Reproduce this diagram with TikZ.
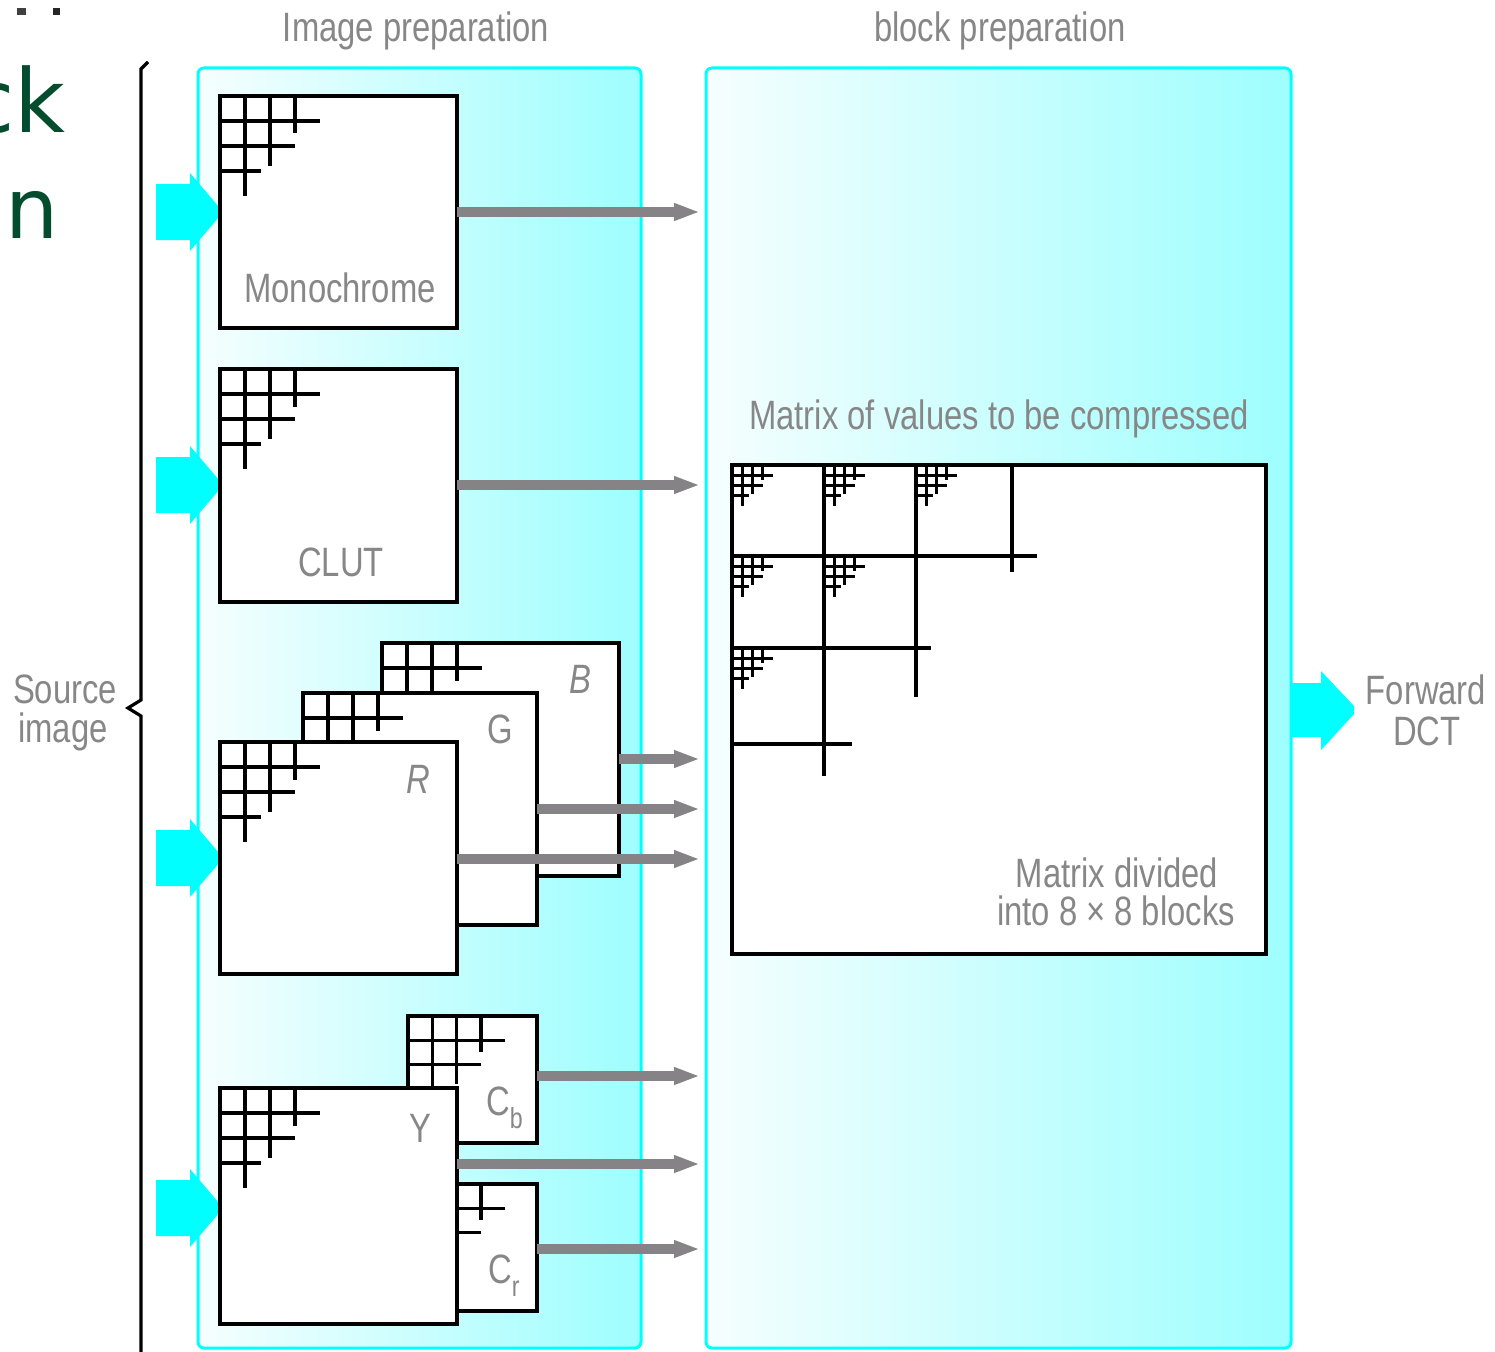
\documentclass[tikz,border=0pt]{standalone}
\usepackage{fontspec}
\setmainfont{Liberation Sans}[FakeStretch=0.8]
\newfontfamily\greenfont{DejaVu Sans}
\usetikzlibrary{arrows.meta}
\definecolor{cy}{RGB}{0,255,255}
\definecolor{panelL}{RGB}{246,254,254}
\definecolor{panelR}{RGB}{158,254,254}
\definecolor{arrgray}{RGB}{133,131,133}
\definecolor{txtgray}{RGB}{135,135,135}
\definecolor{titlegreen}{RGB}{3,77,46}
\newcommand\lblfont{\fontsize{41}{45}\selectfont}
\newcommand\subfont{\fontsize{29}{30}\selectfont}
\newcommand\mygridpat[4]{%
  \draw[line width=#4]
    ({#1+#3},#2) -- ++(0,{4*#3})
    ({#1+2*#3},#2) -- ++(0,{2.8*#3})
    ({#1+3*#3},#2) -- ++(0,{1.5*#3})
    (#1,{#2+#3}) -- ++({4*#3},0)
    (#1,{#2+2*#3}) -- ++({3*#3},0)
    (#1,{#2+3*#3}) -- ++({1.65*#3},0);}
\newcommand\cyarrow[1]{%
  \fill[cy] (156,{#1-28}) -- (190,{#1-28}) -- (190,{#1-39}) -- (219,{#1-5}) -- (219,{#1+5})
    -- (190,{#1+39}) -- (190,{#1+28}) -- (156,{#1+28}) -- cycle;}
\begin{document}
\begin{tikzpicture}[x=1pt,y=-1pt,
  box/.style={draw=black, fill=white, line width=3.5pt, inner sep=0pt, outer sep=0pt, anchor=north west},
  panel/.style={draw=cy, line width=3pt, rounded corners=6pt, left color=panelL, right color=panelR, inner sep=0pt, outer sep=0pt, anchor=north west},
  garrow/.style={draw=arrgray, line width=9.5pt, -{Triangle[length=26pt,width=16pt]}},
  lbl/.style={text=txtgray, font=\lblfont, anchor=base, inner sep=0pt}]
\clip (0,0) rectangle (1495,1351);
\fill[white] (0,0) rectangle (1495,1351);
% cropped slide title remnants
\node[text=titlegreen, font=\greenfont\fontsize{88}{88}\selectfont, anchor=base east, inner sep=0pt] (tck) at (66,133) {ck};
\node[text=titlegreen, font=\greenfont\fontsize{84}{84}\selectfont, anchor=base west, inner sep=0pt] (tn) at (5,238) {n};
\fill[black!75] (17,8) rectangle (26,15);
\fill[black!85] (53,8) rectangle (60,15);
% brace
\draw[line width=3.2pt] (148,62) -- (141,69) -- (141,700) -- (128,708) -- (141,716) -- (141,1360);
% panels
\node[panel, minimum width=443, minimum height=1280] (ip) at (198,68) {};
\node[panel, minimum width=585, minimum height=1280] (bp) at (706,68) {};
\node[lbl] (tip) at (416,42) {Image preparation};
\node[lbl] (tbp) at (1000,42) {block preparation};
% cyan input arrows
\cyarrow{212}
\cyarrow{485}
\cyarrow{858}
\cyarrow{1208}
% boxes
\node[box, minimum width=237, minimum height=232] (mono) at (220,96) {};
\mygridpat{220}{96}{25}{3.3pt}
\node[box, minimum width=237, minimum height=233] (clut) at (220,369) {};
\mygridpat{220}{369}{25}{3.3pt}
\node[box, minimum width=237, minimum height=233] (bb) at (382,643) {};
\mygridpat{382}{643}{25}{3.3pt}
\node[box, minimum width=234, minimum height=232] (gb) at (303,693) {};
\mygridpat{303}{693}{25}{3.3pt}
\node[box, minimum width=237, minimum height=232] (rb) at (220,742) {};
\mygridpat{220}{742}{25}{3.3pt}
\node[box, minimum width=129, minimum height=127] (cb) at (408,1016) {};
\mygridpat{408}{1016}{24.3}{3.3pt}
\node[box, minimum width=129, minimum height=127] (cr) at (408,1184) {};
\mygridpat{408}{1184}{24.3}{3.3pt}
\node[box, minimum width=237, minimum height=236] (yb) at (220,1088) {};
\mygridpat{220}{1088}{25}{3.3pt}
% matrix
\node[box, minimum width=534, minimum height=489] (mx) at (732,465) {};
\draw[line width=3.5pt]
  (824,465) -- (824,776) (916,465) -- (916,697) (1012,465) -- (1012,572)
  (732,556) -- (1037,556) (732,648) -- (931,648) (732,744) -- (852,744);
\mygridpat{732}{465}{10.2}{2.7pt}
\mygridpat{824}{465}{10.2}{2.7pt}
\mygridpat{916}{465}{10.2}{2.7pt}
\mygridpat{732}{556}{10.2}{2.7pt}
\mygridpat{824}{556}{10.2}{2.7pt}
\mygridpat{732}{648}{10.2}{2.7pt}
% gray connectors
\coordinate (tm) at (700,212);
\coordinate (tc) at (700,485);
\coordinate (tb) at (700,759);
\coordinate (tg) at (700,809);
\coordinate (tr) at (700,859);
\coordinate (tcb) at (700,1076);
\coordinate (ty) at (700,1164);
\coordinate (tcr) at (700,1249);
\draw[garrow] (mono.east |- tm) -- (tm);
\draw[garrow] (clut.east |- tc) -- (tc);
\draw[garrow] (bb.east |- tb) -- (tb);
\draw[garrow] (gb.east |- tg) -- (tg);
\draw[garrow] (rb.east |- tr) -- (tr);
\draw[garrow] (cb.east |- tcb) -- (tcb);
\draw[garrow] (yb.east |- ty) -- (ty);
\draw[garrow] (cr.east |- tcr) -- (tcr);
% forward DCT arrow
\fill[cy] (1292,683) -- (1321,683) -- (1321,671) -- (1354,706) -- (1354,714) -- (1321,750) -- (1321,737) -- (1292,737) -- cycle;
% labels
\node[lbl] (lmono) at (340,302) {Monochrome};
\node[lbl] (lclut) at (341,576) {CLUT};
\node[lbl] (lb) at (580,693) {\itshape B};
\node[lbl] (lg) at (500,743) {G};
\node[lbl] (lr) at (418,793) {\itshape R};
\node[lbl] (ly) at (420,1142) {Y};
\node[lbl, anchor=base west] (lcb) at (486,1115) {C\raisebox{-13pt}{\subfont b}};
\node[lbl, anchor=base west] (lcr) at (488,1283) {C\raisebox{-13pt}{\subfont r}};
\node[lbl] (src1) at (65,703) {Source};
\node[lbl] (src2) at (63,742) {image};
\node[lbl] (fd1) at (1426,704) {Forward};
\node[lbl] (fd2) at (1427,745) {DCT};
\node[lbl] (mv) at (999,429) {Matrix of values to be compressed};
\node[lbl] (md1) at (1117,887) {Matrix divided};
\node[lbl] (md2) at (1116,925) {into 8 × 8 blocks};
\end{tikzpicture}
\end{document}
